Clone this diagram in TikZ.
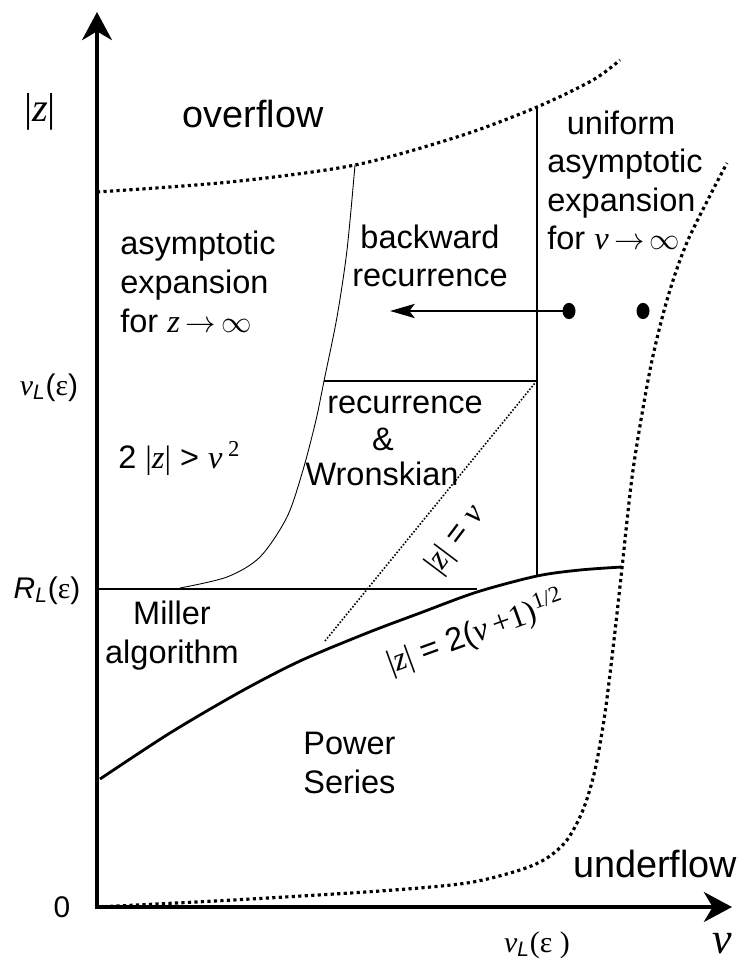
\documentclass[tikz,border=0pt]{standalone}
\usepackage{fontspec}
\setmainfont{Liberation Sans}
\newfontfamily\serif{Liberation Serif}
\usetikzlibrary{arrows.meta, shapes.geometric}

% serif symbols inside the sans labels
\newcommand{\absz}{{\serif|\textit{z}|}}
\newcommand{\nuit}{{\serif\itshape ν}}
\newcommand{\arr}{\ensuremath{\rightarrow}}
\newcommand{\infy}{\ensuremath{\infty}}

\begin{document}
\begin{tikzpicture}[x=0.02cm, y=-0.02cm, font=\fontsize{18.5}{22}\selectfont,
    axis/.style={line width=2.3pt, -{Stealth[length=16pt, width=17pt, inset=5pt]}},
    bound/.style={line width=1.6pt},
    fine/.style={line width=0.5pt},
    limit/.style={line width=1.8pt, dash pattern=on 1.8pt off 1.9pt},
    diag/.style={line width=0.9pt, dash pattern=on 0.9pt off 1pt},
    lbl/.style={anchor=base, inner sep=0pt, align=center},
    big/.style={font=\fontsize{21.5}{25}\selectfont},
    small/.style={font=\fontsize{17}{20}\selectfont},
    dot/.style={ellipse, fill, inner sep=0pt, minimum width=7.4pt, minimum height=9.2pt}]

    \useasboundingbox (0,0) rectangle (743,959);

    % Positions (pixels, y downwards)
    \def\xa{97}     % nu axis origin
    \def\ya{907}    % |z| = 0
    \def\xL{537}    % nu_L(eps)
    \def\yN{381}    % nu_L(eps) level
    \def\yR{589}    % R_L(eps) level

    % 1. Axes
    \coordinate (Ob) at (\xa,909);
    \coordinate (Ol) at (95,\ya);
    \coordinate (ytip) at (\xa,12);
    \coordinate (xtip) at (732,\ya);
    \draw[axis] (Ob) -- (ytip);
    \draw[axis] (Ol) -- (xtip);

    % 2. Overflow and underflow limits
    \draw[limit] plot[smooth] coordinates {(\xa,192) (230,182) (355,165) (460,136) (\xL,107) (593,80) (620,60)};
    \draw[limit] plot[smooth] coordinates {(\xa,907) (233,900) (380,891) (467,883) (520,870) (547,858)
        (567,840) (583,810) (595,770) (605,713) (614,640) (622,568) (633,470) (650,370)
        (667,300) (688,240) (727,163)};

    % 3. Region boundaries
    \coordinate (vtop) at (\xL,107);
    \coordinate (vbot) at (\xL,575);
    \coordinate (nl) at (324,\yN);
    \coordinate (nr) at (\xL,\yN);
    \coordinate (rl) at (\xa,\yR);
    \coordinate (rr) at (477,\yR);
    \draw[bound] (vtop) -- (vbot);
    \draw[bound] (nl) -- (nr);
    \draw[bound] (rl) -- (rr);

    % 2|z| = nu^2
    \draw[fine] plot[smooth] coordinates {(180,588) (227,577) (260,557) (287,517) (303,470)
        (316,420) (324,\yN) (337,317) (347,250) (355,165)};

    % |z| = nu
    \coordinate (da) at (325,641);
    \coordinate (db) at (535,383);
    \draw[diag] (da) -- (db);

    % |z| = 2(nu+1)^{1/2}
    \draw[bound] plot[smooth] coordinates {(100,779) (170,733) (240,692) (300,661) (367,633)
        (420,613) (477,592) (\xL,576) (580,570) (622,567)};

    % 4. Backward recurrence from large nu
    \node[dot] (d1) at (569,311) {};
    \node[dot] (d2) at (643,311) {};
    \coordinate (bw) at (390,311);
    \draw[line width=1.7pt, -{Stealth[length=14pt, width=8pt, inset=3pt]}] (d1.center) -- (bw);

    % 5. Axis labels
    \node[lbl, font=\fontsize{23}{26}\selectfont] (zlab) at (40,122) {\absz};
    \node[lbl, small] (nuL) at (49,395) {\nuit\textsubscript{\itshape L}({\serif ε})};
    \node[lbl, small] (RL) at (47,598) {{\itshape R}\textsubscript{\itshape L}({\serif ε})};
    \node[lbl, small] (zero) at (62,917) {0};
    \node[lbl, small] (nuLx) at (\xL,952) {\nuit\textsubscript{\itshape L}{\serif(ε )}};
    \node[lbl, font=\fontsize{25}{28}\selectfont] (nulab) at (722,953) {\nuit};

    % 6. Region labels (base = last line)
    \node[lbl, big] (over) at (253,128) {overflow};
    \node[lbl, big] (under) at (655,877) {underflow};
    \node[lbl, anchor=base west, align=left] (unif) at (547,250)
        {\hspace*{0.6em}uniform\\asymptotic\\expansion\\for \nuit\,\arr\,\infy};
    \node[lbl, anchor=base west, align=left] (asym) at (120,332)
        {asymptotic\\expansion\\for {\serif\itshape z}\,\arr\,\infy};
    \node[lbl] (back) at (430,287) {backward\\recurrence};
    \node[lbl] (rec) at (405,413) {recurrence};
    \node[lbl] (amp) at (383,450) {\&};
    \node[lbl] (wron) at (382,485) {Wronskian};
    \node[lbl, anchor=base west] (ineq) at (118,468) {2 \absz{} > \nuit\,{\serif\textsuperscript{2}}};
    \node[lbl] (mill) at (172,663) {Miller\\algorithm};
    \node[lbl, anchor=base west, align=left] (pow) at (303,793) {Power\\Series};
    \node[rotate=53] (diaglab) at (456,540) {\absz{} = \nuit};
    \node[rotate=20] (curvelab) at (476,633) {\absz{} = 2({\serif\itshape ν}\,{\serif +1)\textsuperscript{1/2}}};

\end{tikzpicture}
\end{document}
